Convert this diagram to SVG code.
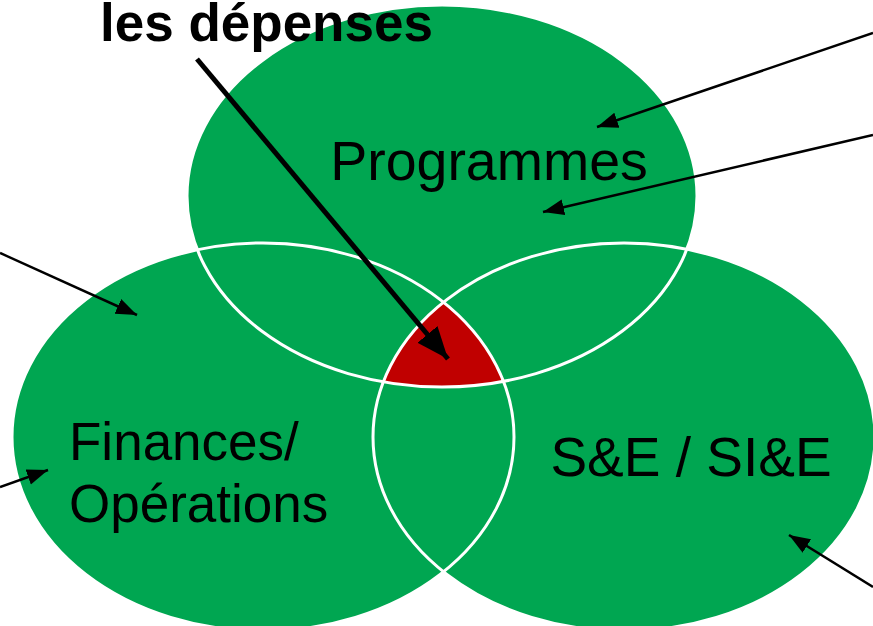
<svg xmlns="http://www.w3.org/2000/svg" width="873" height="626" viewBox="0 0 873 626">
<style>
.fill{fill:#00A651;}
.outline{fill:none;stroke:#FFFFFF;stroke-width:3;}
.lbl{font-family:"Liberation Sans",Arial,sans-serif;font-size:54px;fill:#000000;}
.title{font-family:"Liberation Sans",Arial,sans-serif;font-size:53px;font-weight:bold;fill:#000000;}
.thin{stroke:#000000;stroke-width:2.5;fill:none;marker-end:url(#ah);}
.bold{stroke:#000000;stroke-width:5;fill:none;marker-end:url(#ahb);}
</style>
<defs>
<marker id="ah" markerUnits="userSpaceOnUse" markerWidth="24" markerHeight="18" refX="21" refY="8" orient="auto" viewBox="0 0 24 16">
<path d="M0,0 L21,8 L0,16 Z" fill="#000000"/>
</marker>
<marker id="ahb" markerUnits="userSpaceOnUse" markerWidth="34" markerHeight="28" refX="32" refY="13" orient="auto" viewBox="0 0 34 26">
<path d="M0,0 L32,13 L0,26 Z" fill="#000000"/>
</marker>
<clipPath id="cL"><ellipse cx="263" cy="437" rx="251" ry="194"/></clipPath>
<clipPath id="cR"><ellipse cx="624" cy="437" rx="251" ry="194"/></clipPath>
</defs>
<rect width="873" height="626" fill="#FFFFFF"/>
<g id="programmes-fill"><ellipse class="fill" cx="442" cy="196" rx="255" ry="191"/></g>
<g id="finances-fill"><ellipse class="fill" cx="263" cy="437" rx="251" ry="194"/></g>
<g id="se-fill"><ellipse class="fill" cx="624" cy="437" rx="251" ry="194"/></g>
<g id="intersection" clip-path="url(#cL)">
<ellipse cx="442" cy="196" rx="255" ry="191" fill="#C00000" clip-path="url(#cR)"/>
</g>
<g id="outlines">
<ellipse class="outline" cx="442" cy="196" rx="255" ry="191"/>
<ellipse class="outline" cx="263" cy="437" rx="251" ry="194"/>
<ellipse class="outline" cx="624" cy="437" rx="251" ry="194"/>
</g>
<g id="programmes"><text class="lbl" x="489" y="180" text-anchor="middle" style="font-size:55.5px">Programmes</text></g>
<g id="finances"><text class="lbl" x="69" y="460" style="font-size:53px">Finances/</text><text class="lbl" x="69" y="522" style="font-size:53px">Opérations</text></g>
<g id="se"><text class="lbl" x="691" y="476" text-anchor="middle" style="font-size:55px">S&amp;E / SI&amp;E</text></g>
<g id="title"><text class="title" x="100" y="41">les dépenses</text></g>
<g id="connectors">
<line class="bold" x1="197" y1="59" x2="448" y2="359"/>
<line class="thin" x1="873" y1="33" x2="597" y2="127"/>
<line class="thin" x1="873" y1="135" x2="543" y2="212"/>
<line class="thin" x1="0" y1="253" x2="137" y2="315"/>
<line class="thin" x1="0" y1="487" x2="48" y2="470"/>
<line class="thin" x1="873" y1="587" x2="789" y2="535"/>
</g>
</svg>
